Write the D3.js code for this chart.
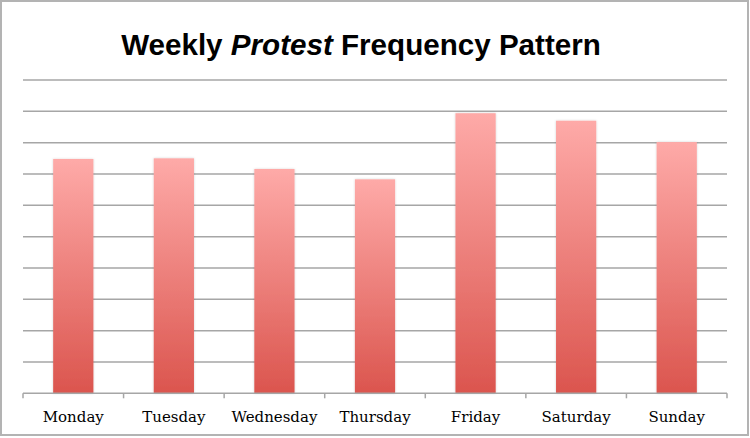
<!DOCTYPE html>
<html><head><meta charset="utf-8">
<script src="https://cdn.jsdelivr.net/npm/d3@7"></script>
<style>html,body{margin:0;padding:0;background:#fff;}svg{display:block;}</style>
</head><body>
<svg id="chart" width="750" height="438"></svg>
<script>
const days = ["Monday","Tuesday","Wednesday","Thursday","Friday","Saturday","Sunday"];
const values = [7.48, 7.50, 7.16, 6.83, 8.94, 8.70, 8.02];
const gridValues = [1,2,3,4,5,6,7,8,9,10];

(function(){
const svg = d3.select("#chart");
const mLeft = 23, mRight = 727, mTop = 80, mBottom = 393.3;

// outer border
svg.append("rect").attr("x",1).attr("y",1).attr("width",747).attr("height",434)
  .attr("fill","#fff").attr("stroke","#b3b3b3").attr("stroke-width",2);

const defs = svg.append("defs");
const grad = defs.append("linearGradient").attr("id","barGrad")
  .attr("x1",0).attr("y1",0).attr("x2",0).attr("y2",1);
grad.append("stop").attr("offset","0%").attr("stop-color","#feaaa8");
grad.append("stop").attr("offset","100%").attr("stop-color","#db554e");
const f = defs.append("filter").attr("id","shadow").attr("x","-20%").attr("y","-10%").attr("width","140%").attr("height","120%");
f.append("feDropShadow").attr("dx",0).attr("dy",0).attr("stdDeviation",1.2)
  .attr("flood-color","#000").attr("flood-opacity",0.18);

const x = d3.scaleBand().domain(days).range([mLeft,mRight]).paddingInner(0.6).paddingOuter(0.3);
const y = d3.scaleLinear().domain([0,10]).range([mBottom,mTop]);

// gridlines
svg.append("g").selectAll("line").data(gridValues).join("line")
  .attr("x1",mLeft).attr("x2",mRight)
  .attr("y1",d=>y(d)).attr("y2",d=>y(d))
  .attr("stroke","#a6a6a6").attr("stroke-width",1.5);

// bars
svg.append("g").selectAll("rect").data(values).join("rect")
  .attr("x",(d,i)=>x(days[i]))
  .attr("width",x.bandwidth())
  .attr("y",d=>y(d))
  .attr("height",d=>mBottom-y(d))
  .attr("fill","url(#barGrad)")
  .attr("filter","url(#shadow)");

// x axis
const xb = d3.scaleBand().domain(days).range([mLeft,mRight]);
const axis = svg.append("g");
axis.append("line").attr("x1",mLeft).attr("x2",mRight).attr("y1",mBottom).attr("y2",mBottom)
  .attr("stroke","#a6a6a6").attr("stroke-width",1.5);
const boundaries = days.map(d=>xb(d)).concat([mRight]);
axis.selectAll("line.tick").data(boundaries).join("line").attr("class","tick")
  .attr("x1",d=>d).attr("x2",d=>d).attr("y1",mBottom).attr("y2",mBottom+5)
  .attr("stroke","#a6a6a6").attr("stroke-width",1.5);
axis.selectAll("text").data(days).join("text")
  .attr("x",d=>xb(d)+xb.bandwidth()/2).attr("y",422)
  .attr("text-anchor","middle")
  .attr("font-family","'DejaVu Serif', serif").attr("font-size",15)
  .attr("fill","#000").text(d=>d);

// title
const t = svg.append("text").attr("x",361).attr("y",55).attr("text-anchor","middle")
  .attr("font-family","'Liberation Sans', Arial, sans-serif").attr("font-weight","bold")
  .attr("font-size",29.6).attr("fill","#000");
t.append("tspan").text("Weekly ");
t.append("tspan").attr("font-style","italic").text("Protest");
t.append("tspan").text(" Frequency Pattern");
})();
</script>
</body></html>
